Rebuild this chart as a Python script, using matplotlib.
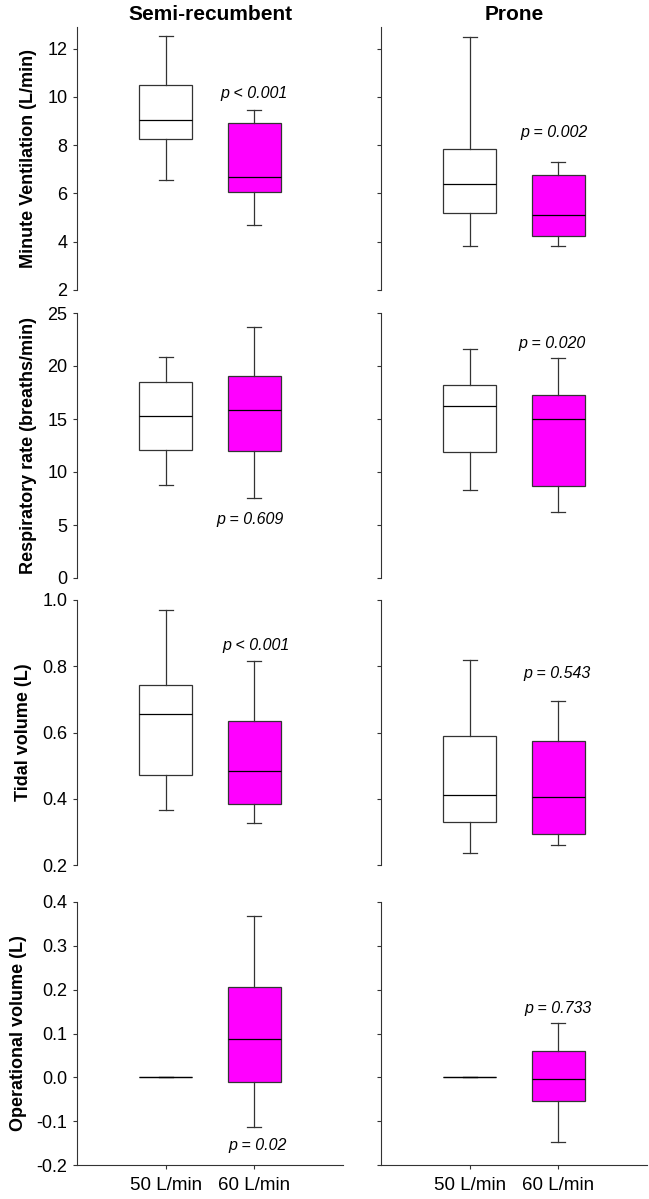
import matplotlib
matplotlib.use("Agg")
import matplotlib.pyplot as plt

plt.rcParams['font.family'] = ['Liberation Sans', 'DejaVu Sans']

# Datos: [min, Q1, mediana, Q3, max]
grupos = ["50 L/min", "60 L/min"]
posturas = ["Semi-recumbent", "Prone"]
variables = ["Minute Ventilation (L/min)", "Respiratory rate (breaths/min)",
             "Tidal volume (L)", "Operational volume (L)"]

ve_semi_50 = [6.55, 8.27, 9.03, 10.50, 12.52]
ve_semi_60 = [4.70, 6.08, 6.69, 8.94, 9.44]
ve_prono_50 = [3.84, 5.20, 6.39, 7.86, 12.50]
ve_prono_60 = [3.82, 4.24, 5.12, 6.78, 7.29]

fr_semi_50 = [8.77, 12.09, 15.28, 18.51, 20.82]
fr_semi_60 = [7.59, 12.00, 15.82, 19.05, 23.64]
fr_prono_50 = [8.26, 11.87, 16.20, 18.20, 21.65]
fr_prono_60 = [6.20, 8.70, 15.00, 17.28, 20.79]

vt_semi_50 = [0.365, 0.473, 0.655, 0.743, 0.969]
vt_semi_60 = [0.327, 0.384, 0.483, 0.635, 0.815]
vt_prono_50 = [0.237, 0.329, 0.410, 0.588, 0.819]
vt_prono_60 = [0.259, 0.294, 0.406, 0.573, 0.696]

vo_semi_50 = [0.0, 0.0, 0.0, 0.0, 0.0]
vo_semi_60 = [-0.114, -0.011, 0.088, 0.206, 0.369]
vo_prono_50 = [0.0, 0.0, 0.0, 0.0, 0.0]
vo_prono_60 = [-0.148, -0.055, -0.003, 0.059, 0.125]

# p-valores (texto, x, y) por panel
p_textos = [
    [("p < 0.001", 2.0, 10.15), ("p = 0.002", 1.95, 8.52)],
    [("p = 0.609", 1.95, 5.5), ("p = 0.020", 1.93, 22.15)],
    [("p < 0.001", 2.02, 0.863), ("p = 0.543", 1.98, 0.779)],
    [("p = 0.02", 2.04, -0.156), ("p = 0.733", 2.0, 0.157)],
]

datos = [
    [[ve_semi_50, ve_semi_60], [ve_prono_50, ve_prono_60]],
    [[fr_semi_50, fr_semi_60], [fr_prono_50, fr_prono_60]],
    [[vt_semi_50, vt_semi_60], [vt_prono_50, vt_prono_60]],
    [[vo_semi_50, vo_semi_60], [vo_prono_50, vo_prono_60]],
]

limites = [(2, 12.9), (0, 25), (0.2, 1.0), (-0.2, 0.4)]
ticks = [[2, 4, 6, 8, 10, 12], [0, 5, 10, 15, 20, 25],
         [0.2, 0.4, 0.6, 0.8, 1.0], [-0.2, -0.1, 0.0, 0.1, 0.2, 0.3, 0.4]]
formatos = ["{:.0f}", "{:.0f}", "{:.1f}", "{:.1f}"]

colores = ["white", "#FF00FF"]
gris = "#333333"

fig = plt.figure(figsize=(6.49, 11.99), dpi=100)

# posiciones de las filas en pixeles (arriba, abajo)
filas_px = [(27, 290), (313, 578), (600, 865), (902, 1165)]
cols_px = [(77, 343), (381, 647)]
W, H = 649, 1199

for i in range(4):
    top, bot = filas_px[i]
    for j in range(2):
        l, r = cols_px[j]
        ax = fig.add_axes([l / W, 1 - bot / H, (r - l) / W, (bot - top) / H])
        stats = []
        for k in range(2):
            mn, q1, med, q3, mx = datos[i][j][k]
            stats.append(dict(whislo=mn, q1=q1, med=med, q3=q3, whishi=mx, fliers=[]))
        bp = ax.bxp(stats, positions=[1, 2], widths=0.6, capwidths=0.16,
                    patch_artist=True, showfliers=False,
                    boxprops=dict(edgecolor=gris, linewidth=0.9),
                    medianprops=dict(color="black", linewidth=0.9),
                    whiskerprops=dict(color=gris, linewidth=0.9),
                    capprops=dict(color=gris, linewidth=0.9))
        for caja, c in zip(bp['boxes'], colores):
            caja.set_facecolor(c)

        ax.set_xlim(0, 3)
        ax.set_ylim(*limites[i])
        ax.set_yticks(ticks[i])
        ax.spines['top'].set_visible(False)
        ax.spines['right'].set_visible(False)
        ax.spines['left'].set_color(gris)
        ax.spines['bottom'].set_color(gris)
        ax.tick_params(axis='y', direction='out', length=3, width=0.8,
                       color=gris, labelsize=13, pad=4)
        if j == 0:
            ax.set_yticklabels([formatos[i].format(t) for t in ticks[i]])
            ax.set_ylabel(variables[i], fontsize=13, fontweight='bold', labelpad=7)
        else:
            ax.set_yticklabels([])

        if i == 3:
            ax.set_xticks([1, 2])
            ax.set_xticklabels(grupos, fontsize=13.5)
            ax.tick_params(axis='x', direction='out', length=3, width=0.8,
                           color=gris, pad=6)
        else:
            ax.spines['bottom'].set_visible(False)
            ax.set_xticks([])

        txt, px, py = p_textos[i][j]
        ax.text(px, py, txt, fontsize=11.5, style='italic', ha='center', va='center')

        if i == 0:
            ax.set_title(posturas[j], fontsize=15, fontweight='bold', pad=5)

fig.savefig("out.png", dpi=100)
